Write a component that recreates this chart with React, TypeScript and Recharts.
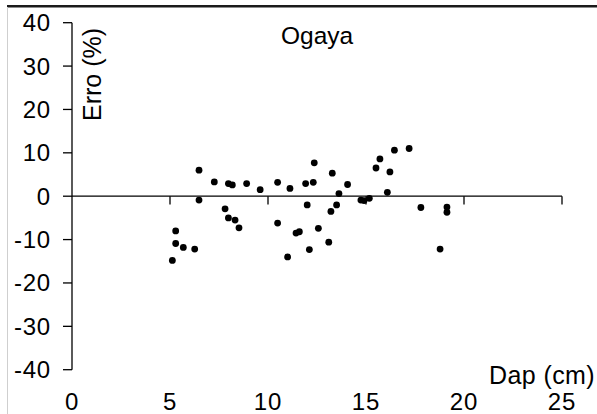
import React from "react";
import {
  ScatterChart,
  Scatter,
  XAxis,
  YAxis,
  ReferenceLine,
} from "recharts";

// Diameter at breast height (cm) of each sampled tree
const dap = [
  5.12, 5.29, 5.29, 5.68, 6.26, 6.48, 6.48, 7.26, 7.81, 7.98, 8.18, 7.98,
  8.32, 8.52, 8.91, 9.6, 10.49, 10.49, 11.0, 11.12, 11.43, 11.6, 11.92, 12.0,
  12.11, 12.31, 12.36, 12.57, 13.1, 13.21, 13.28, 13.5, 13.62, 14.06, 14.74,
  14.9, 15.17, 15.51, 15.71, 16.09, 16.22, 16.45, 17.2, 17.8, 18.78, 19.13,
  19.13,
];

// Relative error of the estimate (%)
const erro = [
  -14.8, -8.0, -10.9, -11.8, -12.2, 6.0, -0.9, 3.3, -2.9, 2.9, 2.6, -5.0,
  -5.5, -7.3, 2.9, 1.5, 3.2, -6.2, -14.0, 1.8, -8.5, -8.2, 2.9, -2.0,
  -12.3, 3.2, 7.7, -7.4, -10.6, -3.5, 5.3, -2.0, 0.6, 2.7, -0.9,
  -1.0, -0.5, 6.5, 8.6, 0.9, 5.6, 10.6, 11.0, -2.6, -12.2, -2.5,
  -3.7,
];

const xTicks = [0, 5, 10, 15, 20, 25];
const yTicks = [-40, -30, -20, -10, 0, 10, 20, 30, 40];
const xTickMarks = [5, 10, 15, 20, 25];

const title = "Ogaya";
const yLabel = "Erro (%)";
const xLabel = "Dap (cm)";

const points = dap.map((d, i) => ({ dap: d, erro: erro[i] }));

const FONT = "'Liberation Sans', Arial, sans-serif";
const tickStyle = {
  fill: "#000",
  fontSize: 24,
  fontFamily: FONT,
  letterSpacing: 0.8,
};

const Dot = (props: any) => (
  <circle cx={props.cx} cy={props.cy} r={3.4} fill="#000" />
);

export default function App() {
  const W = 597;
  const H = 414;
  return (
    <div
      style={{
        position: "absolute",
        left: 0,
        top: 0,
        width: W,
        height: H,
        background: "#fff",
        fontFamily: FONT,
      }}
    >
      <ScatterChart
        width={W}
        height={H}
        margin={{ top: 22.7, right: 35, bottom: 0, left: 0 }}
      >
        <XAxis
          type="number"
          dataKey="dap"
          domain={[0, 25]}
          ticks={xTicks}
          axisLine={false}
          tickLine={false}
          tickSize={0}
          tickMargin={23}
          height={44.3}
          tick={tickStyle}
        />
        <YAxis
          type="number"
          dataKey="erro"
          domain={[-40, 40]}
          ticks={yTicks}
          width={72}
          axisLine={{ stroke: "#000", strokeWidth: 1.3 }}
          tickLine={{ stroke: "#000", strokeWidth: 1.3 }}
          tickSize={9}
          tickMargin={12}
          tick={tickStyle}
        />
        <ReferenceLine y={0} stroke="#000" strokeWidth={1.3} />
        {xTickMarks.map((t) => (
          <ReferenceLine
            key={t}
            segment={[
              { x: t, y: 0 },
              { x: t, y: -1.9 },
            ]}
            stroke="#000"
            strokeWidth={1.3}
          />
        ))}
        <Scatter
          data={points}
          fill="#000"
          shape={Dot}
          isAnimationActive={false}
        />
      </ScatterChart>
      <svg
        width={W}
        height={H}
        style={{ position: "absolute", left: 0, top: 0, pointerEvents: "none" }}
      >
        <line x1={7} y1={6.2} x2={W} y2={6.2} stroke="#1a1a1a" strokeWidth={2.6} />
        <line x1={7.5} y1={7} x2={7.5} y2={H} stroke="#cfcfcf" strokeWidth={1} />
        <text x={281} y={44} fontSize={24.5} fontFamily={FONT} fill="#000">
          {title}
        </text>
        <text
          transform="translate(101 74.5) rotate(-90)"
          textAnchor="middle"
          fontSize={25}
          fontFamily={FONT}
          fill="#000"
        >
          {yLabel}
        </text>
        <text
          x={595}
          y={384}
          textAnchor="end"
          fontSize={25}
          fontFamily={FONT}
          letterSpacing={0.4}
          fill="#000"
        >
          {xLabel}
        </text>
      </svg>
    </div>
  );
}
